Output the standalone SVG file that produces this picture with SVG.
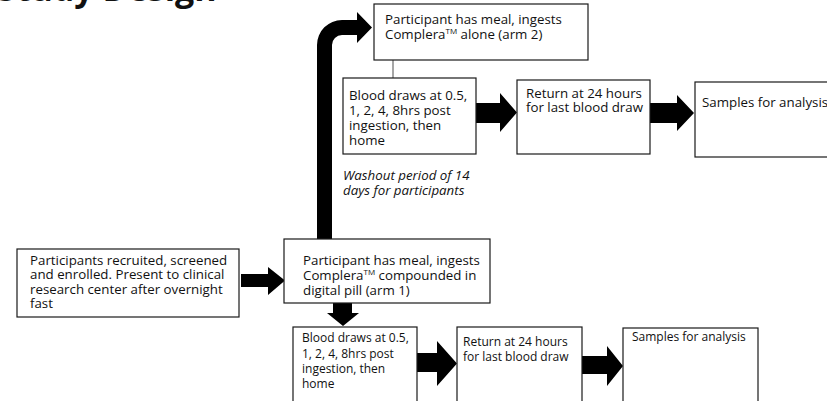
<svg xmlns="http://www.w3.org/2000/svg" width="827" height="401" viewBox="0 0 827 401">
<style>
.box{fill:#fff;stroke:#1a1a1a;stroke-width:1.2}
.t{font-family:"Open Sans","Liberation Sans",sans-serif;font-size:13.3px;fill:#111}
.s{font-size:12px}
.it{font-style:italic}
.tm{font-size:8px}
.arr{fill:#000}
.title{font-family:"Open Sans","Liberation Sans",sans-serif;font-weight:bold;font-size:34px;fill:#111}
</style>
<rect width="827" height="401" fill="#fff"/>
<text class="title" x="-3" y="0.5">Study Design</text>
<g id="connectors">
  <polygon class="arr" points="241,274 268,274 268,267 285,280.5 268,295 268,287 241,287"/>
  <path class="arr" d="M317,239 L317,45 A25,25 0 0 1 342,20 L357,20 L357,12 L372,27.5 L357,43 L357,35 L342,35 A10,10 0 0 0 332,45 L332,239 Z"/>
  <line x1="393" y1="60" x2="393" y2="78" stroke="#888" stroke-width="1.5"/>
  <polygon class="arr" points="476,103 500,103 500,93 517,112.5 500,132 500,123 476,123"/>
  <polygon class="arr" points="650,103 677,103 677,95 694,113 677,131 677,123 650,123"/>
  <polygon class="arr" points="333,303 352,303 352,313 359,313 343,326 327,313 333,313"/>
  <polygon class="arr" points="417,353 437,353 437,341 457,363.5 437,386 437,372 417,372"/>
  <polygon class="arr" points="582,356 607,356 607,346 623,366 607,386 607,374 582,374"/>
</g>
<g id="washout">
  <text class="t it" x="343" y="180">Washout period of 14</text>
  <text class="t it" x="343" y="194.5">days for participants</text>
</g>
<g id="nodeA">
  <rect class="box" x="17" y="249" width="222" height="68"/>
  <text class="t" x="30" y="265">Participants recruited, screened</text>
  <text class="t" x="30" y="279">and enrolled. Present to clinical</text>
  <text class="t" x="30" y="293.5">research center after overnight</text>
  <text class="t" x="30" y="307.5">fast</text>
</g>
<g id="nodeB">
  <rect class="box" x="284" y="239" width="206" height="64"/>
  <text class="t" x="303" y="265">Participant has meal, ingests</text>
  <text class="t" x="303" y="280">Complera<tspan class="tm" dy="-5">TM</tspan><tspan dy="5"> compounded in</tspan></text>
  <text class="t" x="303" y="295">digital pill (arm 1)</text>
</g>
<g id="nodeC">
  <rect class="box" x="374" y="4" width="214" height="56"/>
  <text class="t" x="385" y="24">Participant has meal, ingests</text>
  <text class="t" x="385" y="38.5">Complera<tspan class="tm" dy="-5">TM</tspan><tspan dy="5"> alone (arm 2)</tspan></text>
</g>
<g id="nodeD">
  <rect class="box" x="343" y="78" width="133" height="76"/>
  <text class="t" x="349" y="99.5">Blood draws at 0.5,</text>
  <text class="t" x="349" y="114.5">1, 2, 4, 8hrs post</text>
  <text class="t" x="349" y="129.5">ingestion, then</text>
  <text class="t" x="349" y="144.5">home</text>
</g>
<g id="nodeE">
  <rect class="box" x="517" y="80" width="133" height="74"/>
  <text class="t" x="526" y="98">Return at 24 hours</text>
  <text class="t" x="526" y="112">for last blood draw</text>
</g>
<g id="nodeF">
  <rect class="box" x="695" y="82" width="150" height="75"/>
  <text class="t" x="702" y="107">Samples for analysis</text>
</g>
<g id="nodeG">
  <rect class="box" x="293" y="327" width="124" height="90"/>
  <text class="t s" x="302" y="342">Blood draws at 0.5,</text>
  <text class="t s" x="302" y="357.5">1, 2, 4, 8hrs post</text>
  <text class="t s" x="302" y="373">ingestion, then</text>
  <text class="t s" x="302" y="388">home</text>
</g>
<g id="nodeH">
  <rect class="box" x="457" y="327" width="125" height="90"/>
  <text class="t s" x="463" y="346">Return at 24 hours</text>
  <text class="t s" x="463" y="361">for last blood draw</text>
</g>
<g id="nodeI">
  <rect class="box" x="623" y="328" width="135" height="90"/>
  <text class="t s" x="632" y="341">Samples for analysis</text>
</g>
</svg>
